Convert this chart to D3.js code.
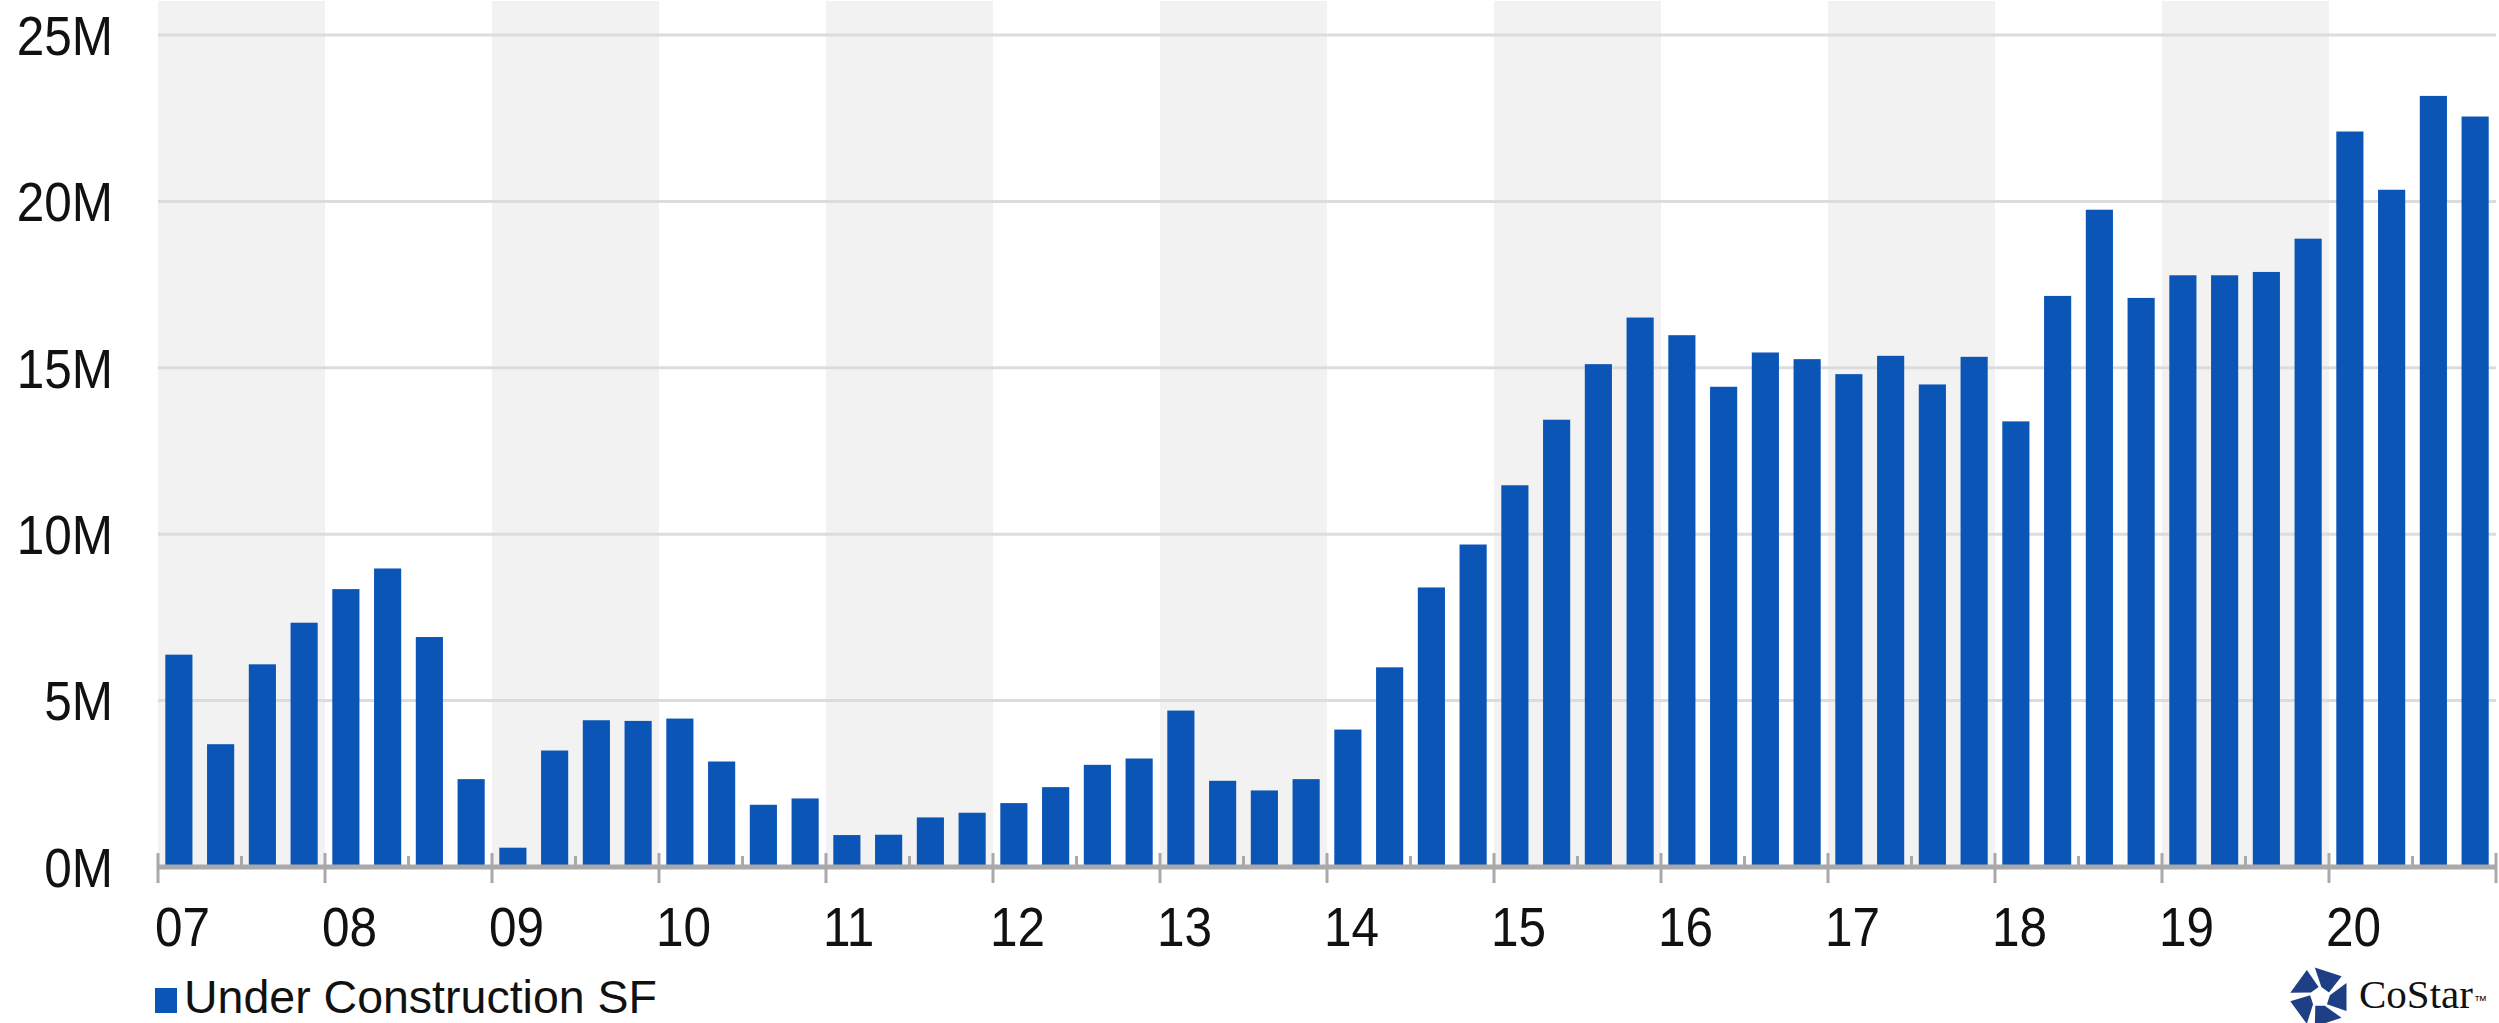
<!DOCTYPE html>
<html>
<head>
<meta charset="utf-8">
<script src="https://cdn.jsdelivr.net/npm/d3@7"></script>
<style>
  body { margin: 0; background: #fff; }
  svg { display: block; }
</style>
</head>
<body>
<div class="chart"></div>
<script>
// data, quarterly, 2007 Q1 .. 2020 Q4
const years = [2007, 2008, 2009, 2010, 2011, 2012, 2013, 2014, 2015, 2016, 2017, 2018, 2019, 2020];
const yearLabels = ["07", "08", "09", "10", "11", "12", "13", "14", "15", "16", "17", "18", "19", "20"];
const underConstruction = [
  6.38, 3.69, 6.09, 7.34,
  8.35, 8.97, 6.91, 2.64,
  0.58, 3.50, 4.41, 4.39,
  4.46, 3.17, 1.87, 2.06,
  0.96, 0.97, 1.49, 1.63,
  1.92, 2.40, 3.07, 3.26,
  4.70, 2.59, 2.30, 2.64,
  4.13, 6.00, 8.40, 9.69,
  11.47, 13.44, 15.11, 16.51,
  15.98, 14.43, 15.46, 15.26,
  14.81, 15.36, 14.50, 15.33,
  13.39, 17.16, 19.75, 17.10,
  17.78, 17.78, 17.88, 18.88,
  22.10, 20.35, 23.17, 22.55
];
const yTicks = [0, 5, 10, 15, 20, 25];
const legendLabel = "Under Construction SF";

const width = 2499, height = 1023;
const plotLeft = 158, plotRight = 2496, plotTop = 35, plotBase = 867;
const font = "'Liberation Sans', Arial, Helvetica, sans-serif";
const barColor = "#0b55b7";

const quarters = [];
years.forEach(yr => [1, 2, 3, 4].forEach(q => quarters.push(yr + "Q" + q)));
const data = quarters.map((k, i) => ({key: k, value: underConstruction[i]}));

const svg = d3.select(".chart").append("svg")
    .attr("width", width)
    .attr("height", height);

const xYear = d3.scaleLinear()
    .domain([years[0], years[years.length - 1] + 1])
    .range([plotLeft, plotRight]);

const x = d3.scaleBand()
    .domain(quarters)
    .range([plotLeft, plotRight])
    .paddingInner(0.35)
    .paddingOuter(0.175);

const y = d3.scaleLinear()
    .domain([0, 25])
    .range([plotBase, plotTop]);

// alternating year bands
svg.append("g").selectAll("rect")
    .data(years.filter((d, i) => i % 2 === 0))
    .enter().append("rect")
      .attr("x", d => xYear(d))
      .attr("width", d => xYear(d + 1) - xYear(d))
      .attr("y", 1)
      .attr("height", plotBase - 1)
      .attr("fill", "#f2f2f2");

// gridlines
svg.append("g").selectAll("line")
    .data(yTicks.filter(d => d > 0))
    .enter().append("line")
      .attr("x1", plotLeft).attr("x2", plotRight)
      .attr("y1", d => y(d)).attr("y2", d => y(d))
      .attr("stroke", "#dcdcdc")
      .attr("stroke-width", 3);

// y labels
svg.append("g").selectAll("text")
    .data(yTicks)
    .enter().append("text")
      .attr("transform", d => `translate(113, ${y(d)}) scale(0.9, 1)`)
      .attr("dy", "0.36em")
      .attr("text-anchor", "end")
      .attr("font-family", font)
      .attr("font-size", 55)
      .attr("fill", "#111")
      .text(d => d + "M");

// bars
svg.append("g").selectAll("rect")
    .data(data)
    .enter().append("rect")
      .attr("x", d => x(d.key))
      .attr("width", x.bandwidth())
      .attr("y", d => y(d.value))
      .attr("height", d => plotBase - y(d.value))
      .attr("fill", barColor);

// x axis line + ticks
const axis = svg.append("g").attr("stroke", "#a9a9a9");
axis.append("line")
    .attr("x1", plotLeft).attr("x2", plotRight)
    .attr("y1", plotBase).attr("y2", plotBase)
    .attr("stroke-width", 5);
axis.selectAll(".major")
    .data(years.concat([years[years.length - 1] + 1]))
    .enter().append("line")
      .attr("class", "major")
      .attr("x1", d => xYear(d)).attr("x2", d => xYear(d))
      .attr("y1", plotBase - 14).attr("y2", plotBase + 16)
      .attr("stroke-width", 3);
axis.selectAll(".minor")
    .data(years)
    .enter().append("line")
      .attr("class", "minor")
      .attr("x1", d => xYear(d + 0.5)).attr("x2", d => xYear(d + 0.5))
      .attr("y1", plotBase - 11).attr("y2", plotBase)
      .attr("stroke-width", 3);

// x labels
svg.append("g").selectAll("text")
    .data(years)
    .enter().append("text")
      .attr("transform", d => `translate(${xYear(d) - 3}, 946) scale(0.9, 1)`)
      .attr("font-family", font)
      .attr("font-size", 55)
      .attr("fill", "#111")
      .text((d, i) => yearLabels[i]);

// legend
svg.append("rect")
    .attr("x", 155).attr("y", 988)
    .attr("width", 22).attr("height", 25)
    .attr("fill", barColor);
svg.append("text")
    .attr("x", 184).attr("y", 1013)
    .attr("font-family", font)
    .attr("font-size", 46.5)
    .attr("fill", "#111")
    .text(legendLabel);

// CoStar logo
const logo = svg.append("g").attr("transform", "translate(2320, 997)");
const ro = 30, ri = 10;
for (let i = 0; i < 5; i++) {
  const a0 = (-100 + i * 72) * Math.PI / 180;
  const a1 = a0 + 56 * Math.PI / 180;
  const b0 = a0 + 18 * Math.PI / 180;
  const b1 = a1 + 18 * Math.PI / 180;
  const pts = [
    [ro * Math.cos(a0), ro * Math.sin(a0)],
    [ro * Math.cos(a1), ro * Math.sin(a1)],
    [ri * Math.cos(b1), ri * Math.sin(b1)],
    [ri * Math.cos(b0), ri * Math.sin(b0)]
  ];
  logo.append("polygon")
      .attr("points", pts.map(p => p.join(",")).join(" "))
      .attr("fill", "#1e3f84");
}
svg.append("text")
    .attr("x", 2359).attr("y", 1008)
    .attr("font-family", "'Liberation Serif', 'Times New Roman', serif")
    .attr("font-size", 41)
    .attr("fill", "#111")
    .text("CoStar");
svg.append("text")
    .attr("x", 2474).attr("y", 1005)
    .attr("font-family", font)
    .attr("font-size", 13)
    .attr("fill", "#111")
    .text("™");
</script>
</body>
</html>
